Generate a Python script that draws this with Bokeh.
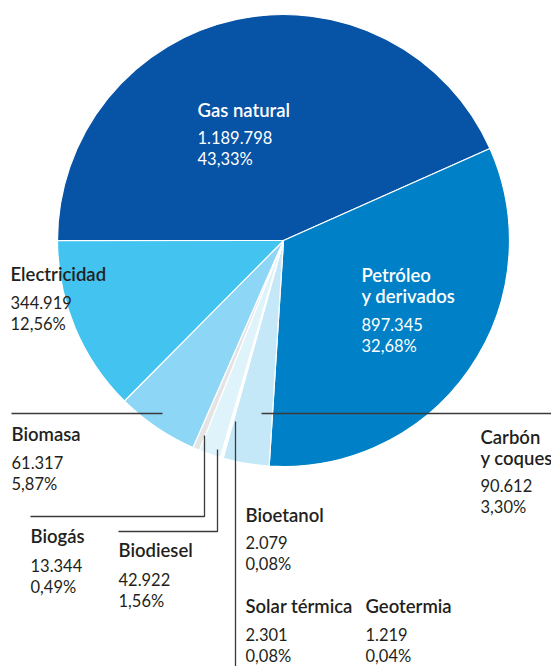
import math
from bokeh.plotting import figure
from bokeh.models import Range1d, ColumnDataSource
from bokeh.core.properties import value
from bokeh.embed import file_html
from bokeh.resources import INLINE

# ---- data ----
categories = ["Gas natural", "Petróleo y derivados", "Carbón y coques", "Bioetanol",
              "Solar térmica", "Geotermia", "Biodiesel", "Biogás", "Biomasa", "Electricidad"]
energy = [1189798, 897345, 90612, 2079, 2301, 1219, 42922, 13344, 61317, 344919]
percents = [43.33, 32.68, 3.30, 0.08, 0.08, 0.04, 1.56, 0.49, 5.87, 12.56]
title_lines = [["Gas natural"], ["Petróleo", "y derivados"], ["Carbón", "y coques"], ["Bioetanol"],
               ["Solar térmica"], ["Geotermia"], ["Biodiesel"], ["Biogás"], ["Biomasa"], ["Electricidad"]]

# ---- styles / layout ----
colors = ["#0753a5", "#0080c6", "#c5e8f8", "#d4eef9", "#eef8fd", "#e8f5fc",
          "#dff3fb", "#e4e4e4", "#8ed6f5", "#42c3f0"]
W, H = 551, 666
def Y(sy):  # screen y -> data y
    return H - sy

TEXT_SHIFT = -8  # baseline correction for rendered text

CX, CY, R = 283, 240, 226
# label anchors: (x, first title baseline, number baseline, text colour)
label_pos = {
    "Gas natural": (197, 117, 145, "white"),
    "Petróleo y derivados": (361, 282, 332, "white"),
    "Carbón y coques": (480, 444, 493, "#231f20"),
    "Bioetanol": (245, 522, 550, "#231f20"),
    "Solar térmica": (245, 613, 642, "#231f20"),
    "Geotermia": (365, 613, 642, "#231f20"),
    "Biodiesel": (118, 557, 587, "#231f20"),
    "Biogás": (30, 543, 573, "#231f20"),
    "Biomasa": (11, 441, 470, "#231f20"),
    "Electricidad": (10, 281, 310, "#231f20"),
}

p = figure(width=W, height=H, output_backend="svg", toolbar_location=None,
           x_range=Range1d(0, W), y_range=Range1d(0, H), min_border=0)
p.axis.visible = False
p.grid.visible = False
p.outline_line_color = None
p.background_fill_color = "white"

# wedges
total = 100.0
starts, ends = [], []
cum = 0.0
for pc in percents:
    starts.append(math.pi - cum / total * 2 * math.pi)
    cum += pc
    ends.append(math.pi - cum / total * 2 * math.pi)
src = ColumnDataSource(dict(start=starts, end=ends, color=colors, cat=categories))
p.wedge(x=CX, y=Y(CY), radius=R, start_angle="start", end_angle="end", direction="clock",
        fill_color="color", line_color="white", line_width=1.2, source=src)

# leader lines
leaders = [
    ([11, 162], [413, 413]),
    ([261, 560], [413, 413]),
    ([204, 204, 30], [435, 516, 516]),
    ([217, 217, 118], [449, 531, 531]),
    ([235, 235], [421, 670]),
]
p.multi_line(xs=[l[0] for l in leaders], ys=[[Y(v) for v in l[1]] for l in leaders],
             line_color="#3a3a3a", line_width=1.3)

# labels
tx, ty, tt, tc = [], [], [], []
nx, ny, nt, nc = [], [], [], []
for cat, val, pc, lines in zip(categories, energy, percents, title_lines):
    x, tb, nb, col = label_pos[cat]
    tb += TEXT_SHIFT
    nb += TEXT_SHIFT
    for i, ln in enumerate(lines):
        tx.append(x); ty.append(Y(tb + 21 * i)); tt.append(ln); tc.append(col)
    nx += [x, x]
    ny += [Y(nb), Y(nb + 21)]
    nt += [f"{val:,}".replace(",", "."), f"{pc:.2f}".replace(".", ",") + "%"]
    nc += [col, col]

p.text(x=tx, y=ty, text=tt, text_color=tc, text_font=value("Lato Semibold"), text_font_size="18.5px",
       text_baseline="alphabetic", text_align="left")
p.text(x=nx, y=ny, text=nt, text_color=nc, text_font=value("Lato"), text_font_size="16.5px",
       text_baseline="alphabetic", text_align="left")

open("out.html", "w").write(file_html(p, INLINE))
